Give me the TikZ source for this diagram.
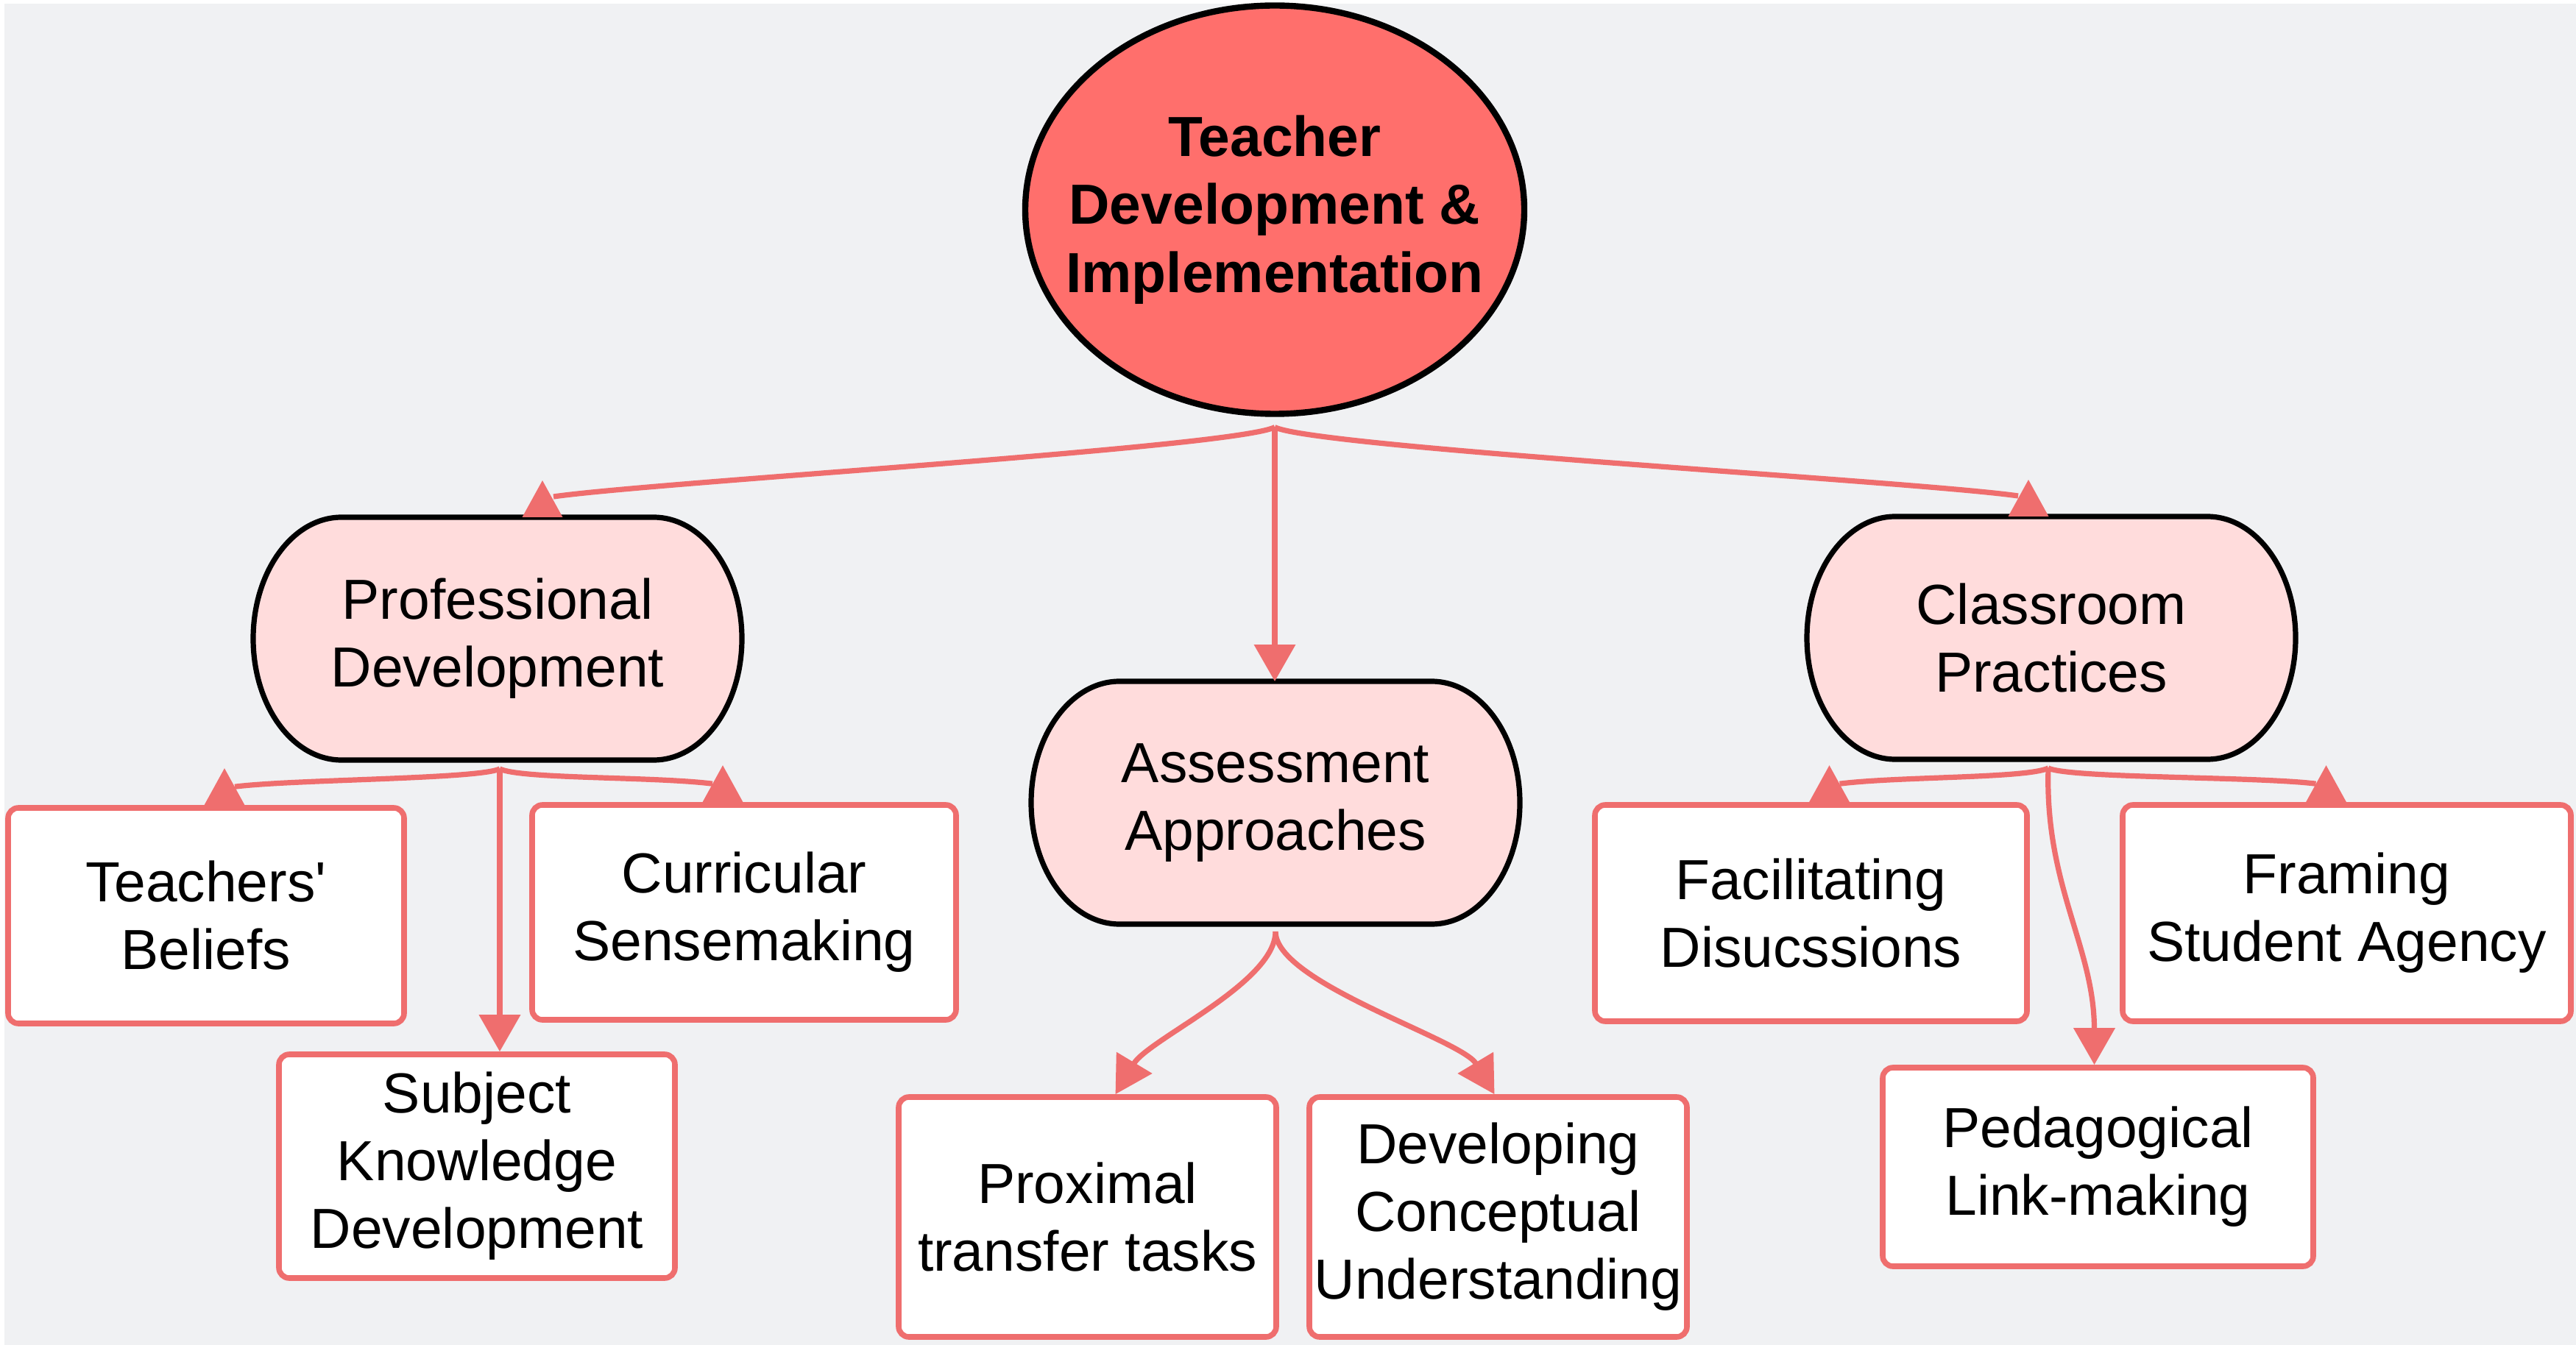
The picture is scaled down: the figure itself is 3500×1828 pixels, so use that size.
\documentclass[tikz,border=0pt]{standalone}
\usepackage{fontspec}
\setmainfont{Liberation Sans}[Ligatures=TeXOff]
\usetikzlibrary{arrows.meta,shapes.geometric,calc}
\definecolor{bgc}{RGB}{240,241,243}
\definecolor{topfill}{RGB}{255,111,108}
\definecolor{midfill}{RGB}{255,220,220}
\definecolor{linec}{RGB}{239,110,110}
\pgfdeclarelayer{back}
\pgfsetlayers{back,main}
\newcommand\uptip[1]{\fill[tipc] ($#1+(-27.5,0)$) -- ++(27.5,50) -- ++(27.5,-50) -- cycle;}
\newcommand\stadium[1]{\filldraw[stadline] (#1.west)
  arc[start angle=180,end angle=90,x radius=30pt,y radius=41.25pt]
  -- ($(#1.north east)+(-120,0)$)
  arc[start angle=90,end angle=-90,x radius=30pt,y radius=41.25pt]
  -- ($(#1.south west)+(120,0)$)
  arc[start angle=270,end angle=180,x radius=30pt,y radius=41.25pt] -- cycle;}
\begin{document}
\begin{tikzpicture}[x=0.25pt,y=0.25pt,
  every node/.style={font=\fontsize{19.2}{23}\selectfont, align=center, text=black},
  topnode/.style={ellipse, draw=black, line width=2.1pt, fill=topfill,
    minimum width=169.5pt, minimum height=138.75pt, inner xsep=-14pt, inner ysep=0pt,
    font=\fontsize{19.2}{23.2}\selectfont\bfseries},
  midnode/.style={rectangle, minimum width=166pt, minimum height=82.5pt, inner sep=0pt, outer sep=0pt},
  stadline/.style={draw=black, line width=1.8pt, fill=midfill, line join=round},
  leaf/.style={rectangle, rounded corners=3.5pt, draw=linec, line width=1.9pt,
    fill=white, inner sep=0pt},
  conn/.style={draw=linec, line width=1.8pt},
  arr/.style={conn, -{Triangle[length=12.5pt,width=13.75pt]}},
  tipc/.style={fill=linec}
]
\useasboundingbox (0,0) rectangle (3500,-1828);
\begin{pgfonlayer}{back}
\fill[white] (0,0) rectangle (3500,-1828);
\fill[bgc] (6,-5) rectangle (3500,-1828);
\end{pgfonlayer}

% nodes
\node[topnode] (top) at (1732,-285) {Teacher\\Development \&\\Implementation};
\node[midnode] (pd) at (676,-868) {Professional\\Development};
\node[midnode] (aa) at (1733,-1091) {Assessment\\Approaches};
\node[midnode] (cp) at (2787,-867) {Classroom\\Practices};
\begin{pgfonlayer}{back}
\stadium{pd}
\stadium{aa}
\stadium{cp}
\end{pgfonlayer}

\node[leaf, minimum width=134.5pt, minimum height=73.25pt] (tb) at (280,-1244.5) {Teachers'\\Beliefs};
\node[leaf, minimum width=144pt, minimum height=73pt] (cs) at (1011,-1240) {Curricular\\Sensemaking};
\node[leaf, minimum width=134.5pt, minimum height=76pt] (sk) at (648,-1585) {Subject\\Knowledge\\Development};
\node[leaf, minimum width=128.25pt, minimum height=81.5pt] (pt) at (1477.5,-1654) {Proximal\\transfer tasks};
\node[leaf, minimum width=128.25pt, minimum height=81.5pt] (dc) at (2035.5,-1654) {Developing\\Conceptual\\Understanding};
\node[leaf, minimum width=146.75pt, minimum height=73.5pt] (fd) at (2460.5,-1241) {Facilitating\\Disucssions};
\node[leaf, minimum width=152.25pt, minimum height=73.5pt] (fs) at (3188.5,-1241) {Framing\\Student Agency};
\node[leaf, minimum width=146.25pt, minimum height=67.5pt] (pl) at (2850.5,-1586) {Pedagogical\\Link-making};

% origins of connector fans
\coordinate (top-o) at ($(top.south)+(0,-14)$);
\coordinate (pd-o) at ($(pd.south)+(3,-12)$);
\coordinate (aa-o) at ($(aa.south)+(0,-10)$);
\coordinate (cp-o) at ($(cp.south)+(-4,-12)$);

% top level
\draw[conn] (top-o) .. controls +(-60,-28) and +(140,20) .. ($(pd.north)+(76,28)$);
\uptip{(pd.north)+(61,0)}
\draw[conn] (top-o) .. controls +(60,-28) and +(-140,20) .. ($(cp.north)+(-45,28)$);
\uptip{(cp.north)+(-31,0)}
\draw[arr] (top-o) -- (top-o |- aa.north);

% professional development
\draw[conn] (pd-o) .. controls +(-30,-14) and +(80,10) .. ($(tb.north)+(39,25)$);
\uptip{(tb.north)+(25,0)}
\draw[conn] (pd-o) .. controls +(30,-14) and +(-80,10) .. ($(cs.north)+(-43,25)$);
\uptip{(cs.north)+(-29,0)}
\draw[arr] (pd-o) -- (pd-o |- sk.north);

% assessment approaches
\draw[arr] (aa-o) .. controls +(0,-70) and +(45,75) .. ($(pt.north)+(38,0)$);
\draw[arr] (aa-o) .. controls +(0,-70) and +(-45,75) .. ($(dc.north)+(-5,0)$);

% classroom practices
\draw[conn] (cp-o) .. controls +(-30,-14) and +(80,10) .. ($(fd.north)+(39,25)$);
\uptip{(fd.north)+(25,0)}
\draw[conn] (cp-o) .. controls +(30,-14) and +(-80,10) .. ($(fs.north)+(-42,25)$);
\uptip{(fs.north)+(-28,0)}
\draw[arr] (cp-o) .. controls +(-5,-160) and +(0,160) .. ($(pl.north)+(-5,0)$);
\end{tikzpicture}
\end{document}
